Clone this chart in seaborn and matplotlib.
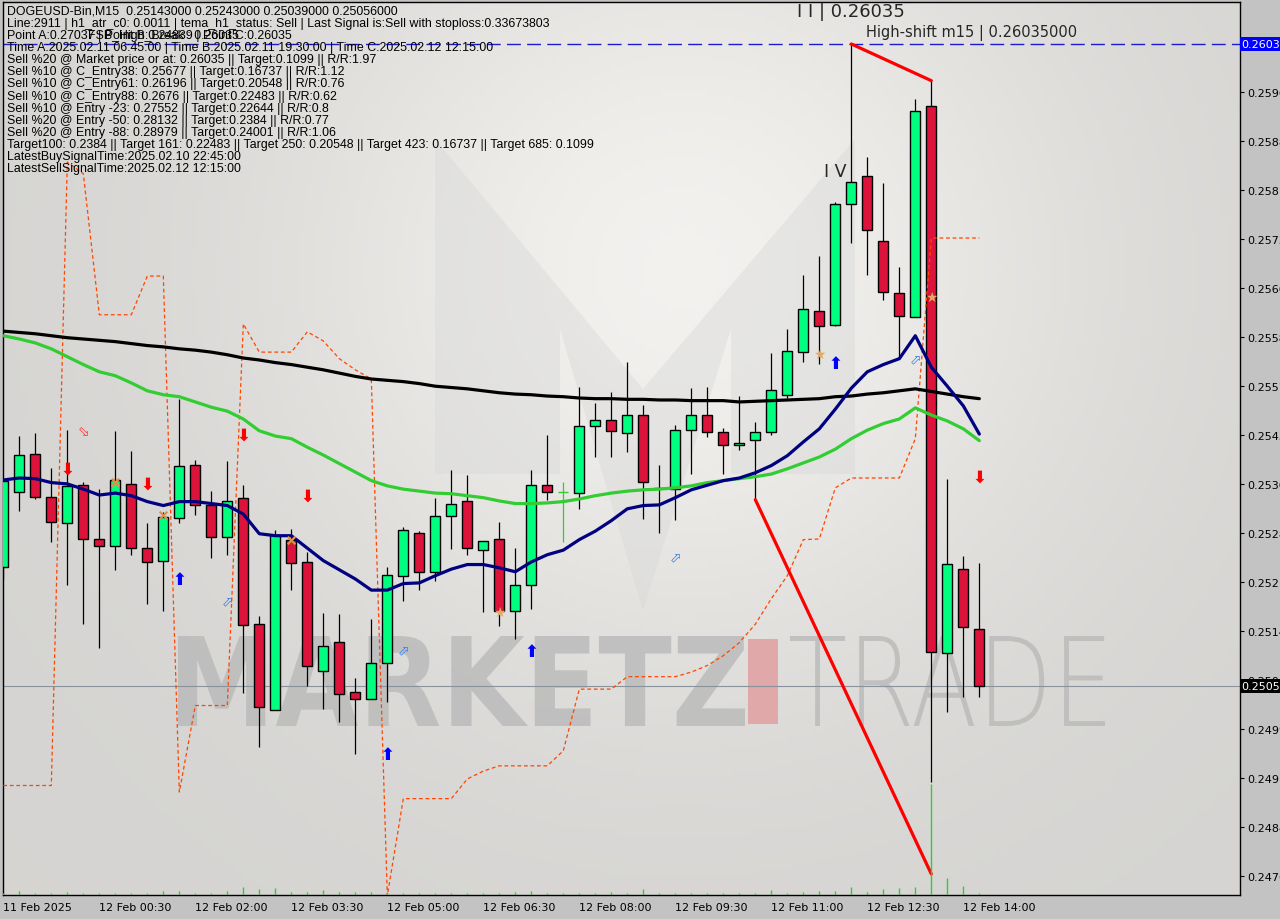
import numpy as np
import pandas as pd
import matplotlib.pyplot as plt
import matplotlib.patches as mpatches
from matplotlib.textpath import TextPath
from matplotlib.font_manager import FontProperties
from matplotlib.transforms import Affine2D, blended_transform_factory
import seaborn as sns

#%% DATOS ----

opens = [0.25237, 0.25352, 0.25410, 0.25344, 0.25305, 0.25362, 0.25280, 0.25270, 0.25364, 0.25266,
         0.25247, 0.25312, 0.25393, 0.25332, 0.25283, 0.25343, 0.25150, 0.25019, 0.25279, 0.25245,
         0.25079, 0.25123, 0.25047, 0.25036, 0.25091, 0.25224, 0.25289, 0.25230, 0.25315, 0.25338,
         0.25263, 0.25280, 0.25170, 0.25210, 0.25362, 0.25352, 0.25350, 0.25453, 0.25462, 0.25442,
         0.25469, 0.25358, 0.25356, 0.25446, 0.25469, 0.25443, 0.25424, 0.25431, 0.25443, 0.25500,
         0.25565, 0.25628, 0.25607, 0.25791, 0.25834, 0.25735, 0.25655, 0.25619, 0.25940, 0.25106,
         0.25234, 0.25143]
highs = [0.25372, 0.25437, 0.25442, 0.25388, 0.25446, 0.25367, 0.25356, 0.25445, 0.25414, 0.25305,
         0.25321, 0.25494, 0.25401, 0.25353, 0.25399, 0.25362, 0.25163, 0.25294, 0.25295, 0.25260,
         0.25167, 0.25166, 0.25068, 0.25158, 0.25237, 0.25299, 0.25292, 0.25343, 0.25385, 0.25378,
         0.25277, 0.25306, 0.25266, 0.25385, 0.25439, 0.25367, 0.25512, 0.25488, 0.25504, 0.25550,
         0.25485, 0.25393, 0.25454, 0.25510, 0.25512, 0.25449, 0.25498, 0.25459, 0.25564, 0.25600,
         0.25683, 0.25712, 0.25794, 0.26035, 0.25863, 0.25823, 0.25695, 0.25951, 0.25979, 0.25372,
         0.25254, 0.25243]
lows = [0.25219, 0.25323, 0.25341, 0.25276, 0.25210, 0.25150, 0.25114, 0.25233, 0.25256, 0.25181,
        0.25170, 0.25305, 0.25317, 0.25251, 0.25256, 0.25045, 0.24963, 0.25019, 0.25202, 0.25056,
        0.25021, 0.25001, 0.24952, 0.25036, 0.25032, 0.25186, 0.25202, 0.25216, 0.25265, 0.25256,
        0.25169, 0.25148, 0.25128, 0.25173, 0.25340, 0.25276, 0.25326, 0.25405, 0.25405, 0.25413,
        0.25311, 0.25289, 0.25309, 0.25379, 0.25436, 0.25379, 0.25416, 0.25338, 0.25439, 0.25495,
        0.25550, 0.25547, 0.25605, 0.25732, 0.25683, 0.25645, 0.25555, 0.25619, 0.24910, 0.25016,
        0.25039, 0.25039]
closes = [0.25369, 0.25408, 0.25344, 0.25306, 0.25361, 0.25280, 0.25270, 0.25370, 0.25266, 0.25245,
          0.25314, 0.25392, 0.25332, 0.25283, 0.25338, 0.25149, 0.25024, 0.25286, 0.25244, 0.25087,
          0.25117, 0.25044, 0.25036, 0.25091, 0.25225, 0.25294, 0.25230, 0.25315, 0.25334, 0.25266,
          0.25277, 0.25170, 0.25210, 0.25362, 0.25352, 0.25352, 0.25453, 0.25462, 0.25445, 0.25469,
          0.25367, 0.25357, 0.25446, 0.25469, 0.25443, 0.25424, 0.25427, 0.25443, 0.25507, 0.25567,
          0.25631, 0.25605, 0.25791, 0.25825, 0.25751, 0.25657, 0.25620, 0.25933, 0.25108, 0.25242,
          0.25146, 0.25056]
volumes = [2, 4, 2, 2, 3, 2, 2, 2, 2, 2, 4, 4, 2, 2, 4, 8, 6, 7, 3, 3,
           5, 3, 3, 3, 2, 2, 2, 2, 2, 2, 2, 2, 3, 4, 2, 2, 2, 2, 3, 2,
           6, 2, 2, 2, 2, 2, 2, 2, 5, 2, 3, 4, 4, 8, 3, 6, 7, 8, 111, 17,
           9, 2]

ma_black = [0.25597, 0.25595, 0.25593, 0.25590, 0.25587, 0.25585, 0.25583, 0.25581, 0.25578, 0.25575,
            0.25573, 0.25570, 0.25568, 0.25565, 0.25561, 0.25556, 0.25553, 0.25549, 0.25546, 0.25542,
            0.25538, 0.25533, 0.25528, 0.25524, 0.25522, 0.25520, 0.25517, 0.25513, 0.25511, 0.25509,
            0.25506, 0.25503, 0.25501, 0.25500, 0.25498, 0.25497, 0.25495, 0.25494, 0.25494, 0.25493,
            0.25493, 0.25492, 0.25492, 0.25491, 0.25491, 0.25491, 0.25489, 0.25490, 0.25491, 0.25492,
            0.25493, 0.25494, 0.25497, 0.25498, 0.25501, 0.25503, 0.25506, 0.25509, 0.25505, 0.25501,
            0.25497, 0.25494]
ma_green = [0.25590, 0.25585, 0.25579, 0.25570, 0.25558, 0.25546, 0.25535, 0.25529, 0.25518, 0.25506,
            0.25500, 0.25497, 0.25489, 0.25481, 0.25475, 0.25463, 0.25445, 0.25437, 0.25433, 0.25420,
            0.25408, 0.25395, 0.25382, 0.25369, 0.25361, 0.25356, 0.25353, 0.25350, 0.25349, 0.25346,
            0.25343, 0.25338, 0.25334, 0.25334, 0.25335, 0.25337, 0.25341, 0.25346, 0.25350, 0.25353,
            0.25355, 0.25356, 0.25358, 0.25361, 0.25366, 0.25369, 0.25372, 0.25375, 0.25379, 0.25387,
            0.25396, 0.25405, 0.25417, 0.25433, 0.25446, 0.25456, 0.25463, 0.25480, 0.25469, 0.25460,
            0.25448, 0.25430]
ma_navy = [0.25370, 0.25373, 0.25372, 0.25366, 0.25364, 0.25356, 0.25347, 0.25350, 0.25346, 0.25337,
           0.25331, 0.25337, 0.25337, 0.25334, 0.25331, 0.25318, 0.25288, 0.25285, 0.25285, 0.25266,
           0.25247, 0.25233, 0.25219, 0.25202, 0.25202, 0.25212, 0.25213, 0.25224, 0.25234, 0.25241,
           0.25241, 0.25236, 0.25230, 0.25245, 0.25256, 0.25263, 0.25279, 0.25292, 0.25308, 0.25326,
           0.25331, 0.25332, 0.25343, 0.25355, 0.25362, 0.25369, 0.25373, 0.25381, 0.25392, 0.25407,
           0.25428, 0.25448, 0.25478, 0.25510, 0.25535, 0.25546, 0.25555, 0.25590, 0.25542, 0.25513,
           0.25483, 0.25440]
trail_band = [0.24904, 0.24904, 0.24904, 0.24904, 0.25855, 0.25837, 0.25622, 0.25622, 0.25622, 0.25681,
              0.25681, 0.24894, 0.25026, 0.25026, 0.25026, 0.25608, 0.25565, 0.25565, 0.25565, 0.25596,
              0.25582, 0.25555, 0.25538, 0.25524, 0.24736, 0.24884, 0.24884, 0.24884, 0.24884, 0.24914,
              0.24926, 0.24934, 0.24934, 0.24934, 0.24934, 0.24957, 0.25051, 0.25051, 0.25051, 0.25070,
              0.25070, 0.25070, 0.25070, 0.25077, 0.25087, 0.25102, 0.25122, 0.25150, 0.25189, 0.25224,
              0.25279, 0.25280, 0.25358, 0.25373, 0.25373, 0.25373, 0.25373, 0.25433, 0.25739, 0.25739,
              0.25739, 0.25739]

# senales
sell_idx = [4, 9, 15, 19, 61]
sell_px = [0.25387, 0.25364, 0.25439, 0.25346, 0.25375]
buy_idx = [11, 24, 33, 52]
buy_px = [0.25219, 0.24952, 0.25109, 0.25549]
hsell_idx = [5]
hsell_px = [0.25445]
hbuy_idx = [14, 25, 42, 57]
hbuy_px = [0.25186, 0.25111, 0.25253, 0.25556]
cross_idx = [7, 10, 18]
cross_px = [0.25367, 0.25317, 0.25279]
star_idx = [31, 51, 58]
star_px = [0.25169, 0.25562, 0.25649]

# zigzag
zz1_idx = [53, 58]; zz1_px = [0.26035, 0.25979]
zz2_idx = [47, 58]; zz2_px = [0.25340, 0.24769]

high_level = 0.26035

ytick_vals = [0.25962, 0.25887, 0.25812, 0.25738, 0.25663, 0.25588, 0.25513, 0.25439, 0.25364,
              0.25289, 0.25215, 0.25140, 0.25065, 0.24990, 0.24916, 0.24841, 0.24766]
xtick_idx = [0, 6, 12, 18, 24, 30, 36, 42, 48, 54, 60]
xtick_lab = ["11 Feb 2025", "12 Feb 00:30", "12 Feb 02:00", "12 Feb 03:30", "12 Feb 05:00",
             "12 Feb 06:30", "12 Feb 08:00", "12 Feb 09:30", "12 Feb 11:00", "12 Feb 12:30",
             "12 Feb 14:00"]

info_lines = [
    "DOGEUSD-Bin,M15  0.25143000 0.25243000 0.25039000 0.25056000",
    "Line:2911 | h1_atr_c0: 0.0011 | tema_h1_status: Sell | Last Signal is:Sell with stoploss:0.33673803",
    "Point A:0.27037 | Point B:0.24839 | Point C:0.26035",
    "Time A:2025.02.11 06:45:00 | Time B:2025.02.11 19:30:00 | Time C:2025.02.12 12:15:00",
    "Sell %20 @ Market price or at: 0.26035 || Target:0.1099 || R/R:1.97",
    "Sell %10 @ C_Entry38: 0.25677 || Target:0.16737 || R/R:1.12",
    "Sell %10 @ C_Entry61: 0.26196 || Target:0.20548 || R/R:0.76",
    "Sell %10 @ C_Entry88: 0.2676 || Target:0.22483 || R/R:0.62",
    "Sell %10 @ Entry -23: 0.27552 || Target:0.22644 || R/R:0.8",
    "Sell %20 @ Entry -50: 0.28132 || Target:0.2384 || R/R:0.77",
    "Sell %20 @ Entry -88: 0.28979 || Target:0.24001 || R/R:1.06",
    "Target100: 0.2384 || Target 161: 0.22483 || Target 250: 0.20548 || Target 423: 0.16737 || Target 685: 0.1099",
    "LatestBuySignalTime:2025.02.10 22:45:00",
    "LatestSellSignalTime:2025.02.12 12:15:00",
]

#%% FIGURA ----

sns.set_style('white')
plt.rcParams['font.family'] = ['DejaVu Sans']

W, H = 1280, 920
fig = plt.figure(figsize=(W / 100, H / 100), dpi=100, facecolor='#c3c3c3')
ax = fig.add_axes([3 / W, 24 / H, 1237 / W, 893 / H])

bars = np.arange(len(opens))
xlo = -0.02
xhi = xlo + 1237 / 16
ylo, yhi = 0.24737, 0.26099

def px2fig(x, y):
    return x / W, 1 - y / H

## fondo degradado ----
yy, xx = np.mgrid[0:1:180j, 0:1:260j]
v = 0.835 + 0.115 * np.exp(-((xx - 0.55) / 0.33) ** 2 - ((yy - 0.3) / 0.45) ** 2)
ax.imshow(np.dstack([v, v * 0.996, v * 0.985]), extent=[xlo, xhi, ylo, yhi],
          aspect='auto', origin='upper', zorder=0)

## logo M (marca de agua) ----
m_poly = [(435, 475), (435, 140), (643, 390), (855, 140), (855, 475), (731, 475),
          (731, 330), (643, 612), (560, 330), (560, 475)]
ax.add_patch(mpatches.Polygon([px2fig(*p) for p in m_poly], closed=True, transform=fig.transFigure,
                              fc='#d9d9d9', ec='none', alpha=0.45, zorder=0.5))

def text_in_box(s, box, prop, color, alpha):
    tp = TextPath((0, 0), s, size=100, prop=prop)
    bb = tp.get_extents()
    fx0, fy1 = px2fig(box[0], box[1])
    fx1, fy0 = px2fig(box[2], box[3])
    tr = (Affine2D().translate(-bb.x0, -bb.y0)
          .scale((fx1 - fx0) / bb.width, (fy1 - fy0) / bb.height)
          .translate(fx0, fy0) + fig.transFigure)
    ax.add_patch(mpatches.PathPatch(tp, transform=tr, fc=color, ec='none', alpha=alpha, zorder=1))

text_in_box("MARKETZ", (178, 637, 745, 727), FontProperties(family='DejaVu Sans', weight='bold'),
            '#b9b9b9', 0.8)
text_in_box("TRADE", (790, 637, 1105, 727), FontProperties(family='DejaVu Sans', weight='ultralight'),
            '#b9b9b9', 0.8)
fx0, fy1 = px2fig(748, 640)
fx1, fy0 = px2fig(778, 725)
ax.add_patch(mpatches.Rectangle((fx0, fy0), fx1 - fx0, fy1 - fy0, transform=fig.transFigure,
                                fc='#e0a8a8', ec='none', zorder=1))

## velas ----
up_col, dn_col, doji_col = '#00ff7f', '#dc143c', '#32cd32'
o = np.array(opens); c = np.array(closes)
body_col = [up_col if cc > oo else dn_col for oo, cc in zip(o, c)]
line_col = ['black' if cc != oo else doji_col for oo, cc in zip(o, c)]
ax.vlines(bars, lows, highs, colors=line_col, lw=0.9, zorder=3)
ax.bar(bars, np.abs(c - o), bottom=np.minimum(o, c), width=0.62, color=body_col,
       edgecolor=line_col, linewidth=1.0, zorder=3.5)

## lineas ----
ax.plot(bars, trail_band, color='#ff4500', lw=0.9, ls=(0, (3, 2.2)), zorder=4)
sns.lineplot(x=bars, y=ma_black, ax=ax, color='black', lw=2.3, zorder=5)
sns.lineplot(x=bars, y=ma_green, ax=ax, color='#32cd32', lw=2.3, zorder=5)
sns.lineplot(x=bars, y=ma_navy, ax=ax, color='#000080', lw=2.3, zorder=5)
ax.plot(zz1_idx, zz1_px, color='#ff0000', lw=2.3, zorder=6)
ax.plot(zz2_idx, zz2_px, color='#ff0000', lw=2.3, zorder=6)

ax.axhline(high_level, color='#1c1cd0', lw=1, dashes=(10, 4.5), zorder=2)
ax.axhline(closes[-1], color='#8a929c', lw=0.8, zorder=2)

## senales ----
for i, p in zip(sell_idx, sell_px):
    ax.text(i, p, '\u2B07', color='#ff0000', fontsize=12, fontweight='bold', ha='center', va='center', zorder=7)
for i, p in zip(buy_idx, buy_px):
    ax.text(i, p, '\u2B06', color='#0000ff', fontsize=12, fontweight='bold', ha='center', va='center', zorder=7)
for i, p in zip(hsell_idx, hsell_px):
    ax.text(i, p, '\u2B02', color='#ff3030', fontsize=10, ha='center', va='center', zorder=7)
for i, p in zip(hbuy_idx, hbuy_px):
    ax.text(i, p, '\u2B00', color='#2f7fe8', fontsize=10, ha='center', va='center', zorder=7)
for i, p in zip(star_idx, star_px):
    ax.text(i, p, '\u2605', color='#e8a860', fontsize=10, ha='center', va='center', zorder=7)
sns.scatterplot(x=cross_idx, y=cross_px, ax=ax, marker='x', color='#e0904a', s=30, linewidth=1.6, zorder=7)

## etiquetas de ondas ----
ax.text(53, 0.26085, 'I I | 0.26035', fontsize=13, ha='center', va='center', zorder=8)
ax.text(53.9, 0.26053, 'High-shift m15 | 0.26035000', fontsize=10.5, ha='left', va='center', zorder=8)
ax.text(52, 0.25841, 'I V', fontsize=12.5, ha='center', va='center', zorder=8)

## volumen ----
vax = fig.add_axes(ax.get_position())
vax.vlines(bars, 0, volumes, colors='#32cd32', lw=1.0)
vax.set_xlim(xlo, xhi)
vax.set_ylim(0, 893)
vax.set_axis_off()

## ejes ----
ax.set_xlim(xlo, xhi)
ax.set_ylim(ylo, yhi)
ax.yaxis.tick_right()
ax.set_yticks(ytick_vals)
ax.set_yticklabels(['%.5f' % t for t in ytick_vals])
ax.set_xticks(xtick_idx)
ax.set_xticklabels(xtick_lab, ha='left')
ax.tick_params(axis='both', direction='out', length=3, width=0.8, color='black',
               labelsize=8, labelcolor='black', pad=2)
for s in ax.spines.values():
    s.set_color('black'); s.set_linewidth(1)
ax.set_xlabel(''); ax.set_ylabel('')

tr_y = blended_transform_factory(ax.transAxes, ax.transData)
ax.text(1.001, high_level, '0.26035', transform=tr_y, color='white', fontsize=8, va='center', ha='left',
        bbox=dict(fc='#0000ff', ec='none', pad=1.2), clip_on=False, zorder=9)
ax.text(1.001, closes[-1], '0.25056', transform=tr_y, color='white', fontsize=8, va='center', ha='left',
        bbox=dict(fc='black', ec='none', pad=1.2), clip_on=False, zorder=9)

## texto informativo ----
for k, s in enumerate(info_lines):
    fx, fy = px2fig(7, 12 + 12.08 * k)
    fig.text(fx, fy, s, family='Liberation Sans', fontsize=8.9, va='center', ha='left', color='black')
fx, fy = px2fig(88, 36)
fig.text(fx, fy, 'FSB_High_Break : 0.26035', family='Liberation Sans', fontsize=8.9, va='center',
         ha='left', color='black')

fig.savefig('out.png', dpi=100)
